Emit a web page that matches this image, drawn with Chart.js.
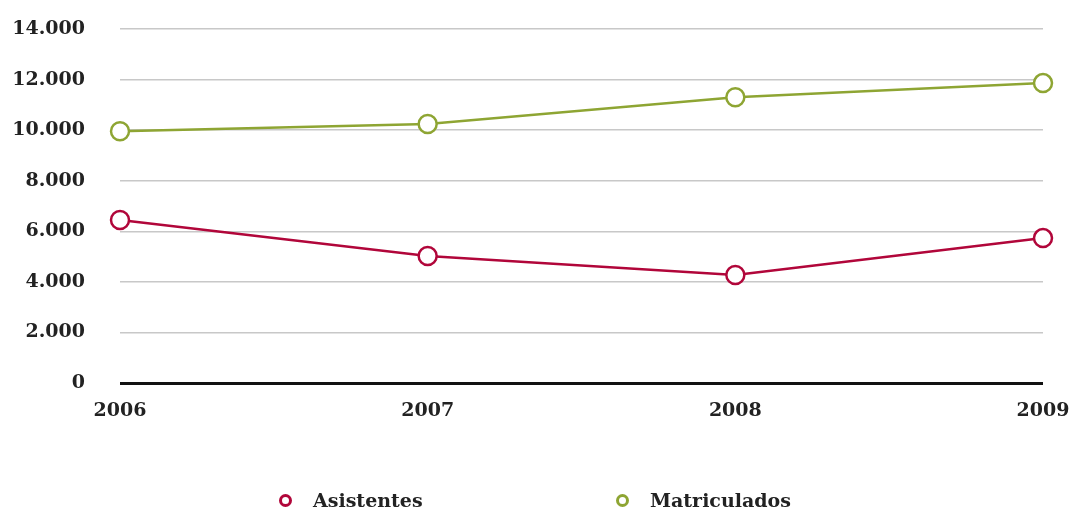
<!DOCTYPE html>
<html lang="es">
<head>
  <meta charset="UTF-8" />
  <title>Asistentes y Matriculados</title>
  <script src="https://cdn.jsdelivr.net/npm/chart.js"></script>
  <style>
    body { margin: 0; background: #fff; }
    #wrap { position: relative; width: 1072px; height: 512px; }
    #legend {
      position: absolute; left: 0; top: 488px; width: 1072px; height: 24px;
      font-family: 'DejaVu Serif', serif; font-weight: bold; font-size: 19px; color: #222;
    }
    .item { position: absolute; top: 0; line-height: 24px; white-space: nowrap; }
    .dot {
      position: absolute; top: 6px; width: 7px; height: 7px;
      border: 3px solid; border-radius: 50%; background: #fff;
    }
    .txt { position: absolute; top: 0; }
  </style>
</head>
<body>
  <div id="wrap">
    <canvas id="chart" width="1072" height="512"></canvas>
    <div id="legend"></div>
  </div>
  <script>
    const years = ['2006', '2007', '2008', '2009'];
    const asistentes = [6450, 5020, 4270, 5730];
    const matriculados = [9960, 10240, 11300, 11860];
    const yTicks = [0, 2000, 4000, 6000, 8000, 10000, 12000, 14000];

    const RED = '#b1063a';
    const GREEN = '#8ea533';
    const FONT = "'DejaVu Serif', serif";

    function fmt(v) {
      return v.toLocaleString('de-DE');
    }

    const chart = new Chart(document.getElementById('chart'), {
      type: 'line',
      data: {
        labels: years,
        datasets: [
          {
            label: 'Asistentes',
            data: asistentes,
            borderColor: RED,
            backgroundColor: '#fff',
            pointBackgroundColor: '#fff',
            borderWidth: 2.5,
            pointBorderWidth: 2.5,
            pointRadius: 9,
            tension: 0
          },
          {
            label: 'Matriculados',
            data: matriculados,
            borderColor: GREEN,
            backgroundColor: '#fff',
            pointBackgroundColor: '#fff',
            borderWidth: 2.5,
            pointBorderWidth: 2.5,
            pointRadius: 9,
            tension: 0
          }
        ]
      },
      options: {
        responsive: false,
        animation: false,
        layout: { padding: { top: 29, right: 29, left: 0, bottom: 59 } },
        plugins: {
          tooltip: { enabled: false },
          legend: { display: false }
        },
        scales: {
          x: {
            offset: false,
            grid: { display: false },
            border: { display: false },
            ticks: {
              color: '#222',
              padding: 9,
              maxRotation: 0,
              font: { family: FONT, size: 19, weight: 'bold' }
            },
            afterFit(scale) {
              scale.height = 70;
              scale.paddingLeft = 0;
              scale.paddingRight = 0;
            }
          },
          y: {
            min: 0,
            max: 14000,
            afterBuildTicks(scale) {
              scale.ticks = yTicks.map(v => ({ value: v }));
            },
            grid: {
              drawTicks: false,
              color: c => c.tick.value === 0 ? '#111' : '#c8c8c8',
              lineWidth: c => c.tick.value === 0 ? 3 : 1.5
            },
            border: { display: false },
            ticks: {
              color: '#222',
              padding: 35,
              autoSkip: false,
              callback: v => fmt(v),
              font: { family: FONT, size: 19, weight: 'bold' }
            },
            afterFit(scale) {
              scale.width = 120;
              scale.paddingTop = 0;
              scale.paddingBottom = 0;
            }
          }
        }
      }
    });

    // legend built from the chart's datasets
    const legendPos = [285, 622];
    const legend = document.getElementById('legend');
    chart.data.datasets.forEach((ds, i) => {
      const item = document.createElement('div');
      item.className = 'item';
      item.style.left = (legendPos[i] - 6) + 'px';
      const dot = document.createElement('span');
      dot.className = 'dot';
      dot.style.borderColor = ds.borderColor;
      const txt = document.createElement('span');
      txt.className = 'txt';
      txt.style.left = '34px';
      txt.textContent = ds.label;
      item.appendChild(dot);
      item.appendChild(txt);
      legend.appendChild(item);
    });
  </script>
</body>
</html>
